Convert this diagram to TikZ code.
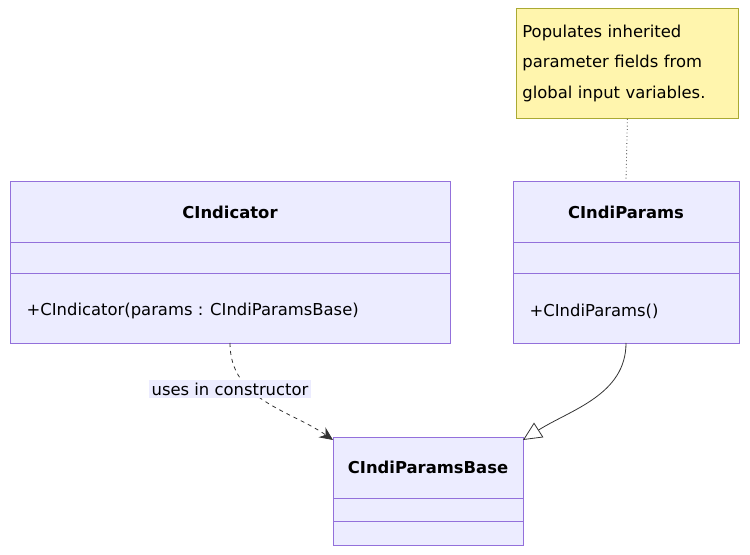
\documentclass[tikz,border=0pt]{standalone}
\usepackage{fontspec}
\setmainfont{DejaVu Sans}
\usetikzlibrary{arrows.meta}
\definecolor{cbox}{HTML}{ECECFF}
\definecolor{cline}{HTML}{9370DB}
\definecolor{nfill}{HTML}{FFF5AD}
\definecolor{nline}{HTML}{AAAA33}
\definecolor{edge}{HTML}{333333}
\begin{document}
\begin{tikzpicture}[x=0.75pt,y=-0.75pt,
  cls/.style={draw=cline,fill=cbox,line width=0.6pt},
  dv/.style={draw=cline,line width=0.6pt},
  ttl/.style={font=\fontsize{12.3}{14}\selectfont\bfseries,text=black},
  txt/.style={font=\fontsize{12.3}{14}\selectfont,text=black,anchor=west},
  lbl/.style={font=\fontsize{12.3}{14}\selectfont,fill=cbox,inner sep=2pt,text=black}]
\useasboundingbox (0,0) rectangle (750,555);
% CIndicator
\draw[cls] (10,181) rectangle (450,343);
\draw[dv] (10,242) -- (450,242) (10,273) -- (450,273);
\node[ttl] (ci) at (230,212) {CIndicator};
\node[txt] (cim) at (22,311) {+CIndicator(params : CIndiParamsBase)};
\coordinate (ciB) at (230,343);
% CIndiParams
\draw[cls] (513,181) rectangle (739,343);
\draw[dv] (513,242) -- (739,242) (513,273) -- (739,273);
\node[ttl] (cp) at (626,212) {CIndiParams};
\node[txt] (cpm) at (525,311) {+CIndiParams()};
\coordinate (cpB) at (626,343);
\coordinate (cpT) at (626,181);
% Base
\draw[cls] (333,437) rectangle (523,545);
\draw[dv] (333,498) -- (523,498) (333,521) -- (523,521);
\node[ttl] (cb) at (428,467) {CIndiParamsBase};
\coordinate (cbL) at (333,440);
\coordinate (cbR) at (523,440);
% note
\node[draw=nline,fill=nfill,line width=0.6pt,minimum width=221*0.75pt,minimum height=110*0.75pt,
  align=left,text width=210*0.75pt,font=\fontsize{12.3}{23}\selectfont,anchor=north west,inner sep=6*0.75pt] (note) at (516,8)
  {Populates inherited\\parameter fields from\\global input variables.};
\draw[edge,dotted,line width=0.6pt] (note.south) -- (cpT);
% edges
\draw[edge,dashed,line width=0.6pt,-{Stealth[length=10pt,width=9pt]}] (ciB) .. controls (230,400) and (290,410) .. (cbL);
\node[lbl] (u) at (230,389) {uses in constructor};
\draw[edge,line width=0.6pt,-{Triangle[open,length=14pt,width=13pt,fill=white]}] (cpB) .. controls (626,395) and (570,410) .. (cbR);
\end{tikzpicture}
\end{document}
